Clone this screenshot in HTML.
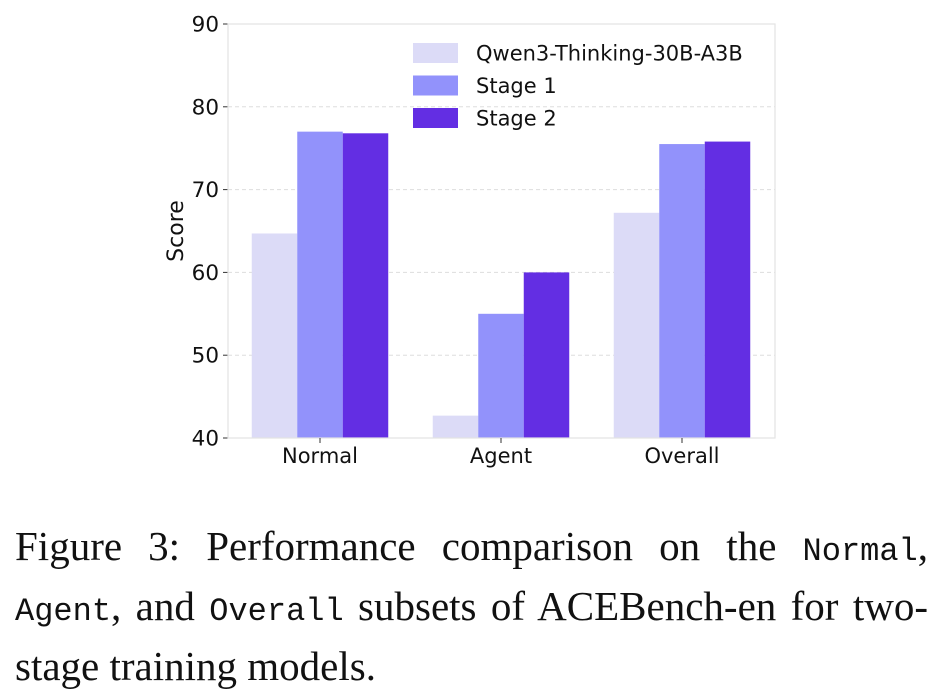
<!DOCTYPE html>
<html><head><meta charset="utf-8"><style>
body{margin:0;background:#fff;width:943px;height:695px;overflow:hidden}
.cap{position:absolute;left:15px;top:519px;width:913px;font-family:"Liberation Serif",serif;font-size:41px;line-height:54px;color:#111}
.cap div{white-space:nowrap;text-align:justify;text-align-last:justify}
.cap div.last{text-align-last:left}
.cap code{font-family:"Liberation Mono",monospace;font-size:32px}
</style></head><body>
<svg id="chart" width="943" height="500" style="position:absolute;left:0;top:0" font-family="DejaVu Sans, Liberation Sans, sans-serif"></svg>
<div class="cap">
<div>Figure 3: Performance comparison on the <code>Normal</code>,</div>
<div><code>Agent</code>, and <code>Overall</code> subsets of ACEBench-en for two-</div>
<div class="last">stage training models.</div>
</div>
<script>
const categories=["Normal","Agent","Overall"];
const seriesNames=["Qwen3-Thinking-30B-A3B","Stage 1","Stage 2"];
const baseValues=[64.7,42.7,67.2];
const stage1Values=[77.0,55.0,75.5];
const stage2Values=[76.8,60.0,75.8];
const yTicks=[40,50,60,70,80,90];
const colors=["#dcdbf7","#9292fb","#632ee3"];
const series=[baseValues,stage1Values,stage2Values];
const svg=document.getElementById('chart');
const NS="http://www.w3.org/2000/svg";
const L=228,R=775,T=24,B=438,yMin=40,yMax=90;
const y=v=>B-(v-yMin)/(yMax-yMin)*(B-T);
const catW=181,x0=320,bw=45.5;
const xc=i=>x0+i*catW;
function mk(t,a){const e=document.createElementNS(NS,t);for(const k in a)e.setAttribute(k,a[k]);svg.appendChild(e);return e;}
yTicks.forEach(t=>{
 if(t>yMin&&t<yMax){const g=mk('line',{x1:L,x2:R,y1:y(t),y2:y(t),stroke:'#ddd','stroke-dasharray':'4,3','stroke-width':1});
 
 }
 const tk=mk('line',{x1:L-5,x2:L,y1:y(t),y2:y(t),stroke:'#333'});
 
 
 const tx=mk('text',{x:L-9,y:y(t)+7.5,'text-anchor':'end','font-size':21.5,fill:'#111'});tx.textContent=t;
 
 
});
series.forEach((vals,s)=>{
 vals.forEach((v,i)=>{
  const r=mk('rect',{x:xc(i)+(s-1)*bw-bw/2,y:y(v),width:bw,height:B-y(v),fill:colors[s]});
  
  
 });
});
const frame=mk('rect',{x:L,y:T,width:R-L,height:B-T,fill:'none',stroke:'#e3e3e3','stroke-width':1.2});


categories.forEach((c,i)=>{
 const tk=mk('line',{x1:xc(i),x2:xc(i),y1:B,y2:B+5,stroke:'#333'});
 
 
 const t=mk('text',{x:xc(i),y:B+25,'text-anchor':'middle','font-size':21,fill:'#111'});t.textContent=c;
 
 
});
const yl=mk('text',{x:0,y:0,transform:'translate(183,231) rotate(-90)','text-anchor':'middle','font-size':22,fill:'#111'});yl.textContent='Score';


seriesNames.forEach((n,s)=>{
 const ly=53+s*32.5;
 const r=mk('rect',{x:413,y:ly-10,width:45,height:20,fill:colors[s]});
 
 
 const t=mk('text',{x:476,y:ly+7.5,'font-size':21,fill:'#111'});t.textContent=n;
 
 
});
</script>
</body></html>
